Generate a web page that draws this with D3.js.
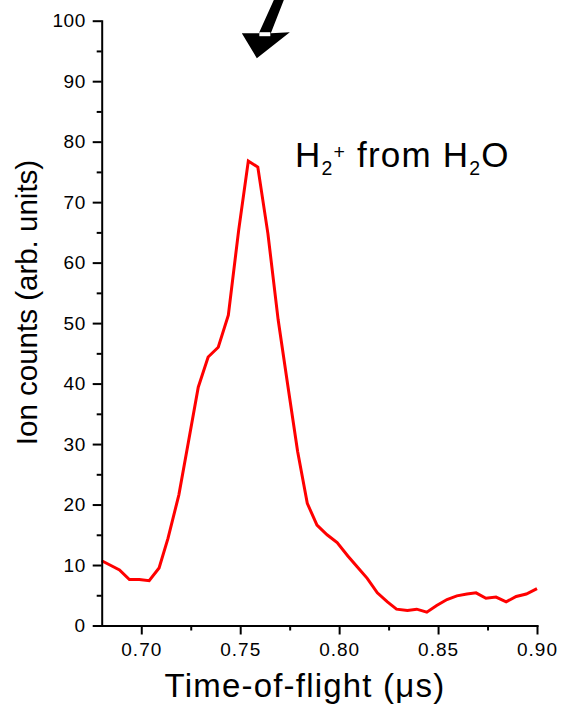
<!DOCTYPE html>
<html>
  <head>
    <meta charset="utf-8">
    <title>H2+ from H2O</title>
<style>
  body { margin: 0; background-color: #fff; }
  svg { display: block; font-family: "Liberation Sans", Arial, sans-serif; }
  .axis path, .axis line { stroke: #000; stroke-width: 2px; }
  .axis text { font-size: 19px; fill: #000; }
  .x-axis text { letter-spacing: 1px; }
  .y-axis text { letter-spacing: 0.5px; }
</style>
  </head>
  <body>
    <div id="viz"></div>

  <script src="https://cdn.jsdelivr.net/npm/d3@7"></script>
  <script>

    // time-of-flight (us) and ion counts
    var tof    = [0.680, 0.689, 0.694, 0.699, 0.704, 0.709, 0.7135, 0.719, 0.7238, 0.7288,
                  0.7338, 0.7389, 0.744, 0.7492, 0.7541, 0.7589, 0.764, 0.7692, 0.774, 0.779,
                  0.7839, 0.7888, 0.7939, 0.799, 0.8044, 0.8091, 0.8142, 0.8193, 0.8244, 0.829,
                  0.8345, 0.8392, 0.8443, 0.8493, 0.8545, 0.8595, 0.8646, 0.8692, 0.8742, 0.8793,
                  0.8844, 0.8895, 0.8946, 0.900]
    var counts = [10.7, 9.2, 7.6, 7.6, 7.4, 9.5, 14.4, 21.6, 30.3, 39.4,
                  44.4, 46.0, 51.3, 65.3, 76.8, 75.8, 64.8, 50.5, 39.8, 28.8,
                  20.2, 16.6, 15.0, 13.7, 11.5, 9.7, 7.8, 5.4, 3.9, 2.7,
                  2.5, 2.7, 2.2, 3.3, 4.3, 4.9, 5.2, 5.4, 4.5, 4.7,
                  3.9, 4.8, 5.2, 6.1]

    var xTicks      = [0.70, 0.75, 0.80, 0.85, 0.90]
    var xMinorTicks = [0.725, 0.775, 0.825, 0.875]
    var yTicks      = [0, 10, 20, 30, 40, 50, 60, 70, 80, 90, 100]
    var yMinorTicks = [5, 15, 25, 35, 45, 55, 65, 75, 85, 95]

    var arrowTip = { t: 0.7584, v: 93.8 }

    var W = 566, H = 709
    var margin = {top: 20.7, right: 29, bottom: 83.5, left: 101.7},
        width = W - margin.left - margin.right,
        height = H - margin.top - margin.bottom

    var x = d3.scaleLinear().domain([0.68, 0.90]).range([0, width])
    var y = d3.scaleLinear().domain([0, 100]).range([height, 0])

    var svg = d3.select("#viz").append("svg")
        .attr("width", W)
        .attr("height", H)
      .append("g")
        .attr("transform", "translate(" + margin.left + "," + margin.top + ")")

    // curve
    var line = d3.line()
        .x(function(d, i) { return x(tof[i]) })
        .y(function(d) { return y(d) })

    svg.append("path")
        .datum(counts)
        .attr("fill", "none")
        .attr("stroke", "#ff0000")
        .attr("stroke-width", 3)
        .attr("stroke-linejoin", "miter")
        .attr("d", line)

    // x axis
    svg.append("g")
        .attr("class", "axis x-axis")
        .attr("transform", "translate(0," + height + ")")
        .call(d3.axisBottom(x).tickValues(xTicks).tickFormat(d3.format(".2f"))
              .tickSizeInner(9).tickSizeOuter(0).tickPadding(8))

    svg.append("g")
        .attr("class", "axis")
        .attr("transform", "translate(0," + height + ")")
        .call(d3.axisBottom(x).tickValues(xMinorTicks).tickFormat("")
              .tickSizeInner(5).tickSizeOuter(0))
        .select(".domain").remove()

    // y axis
    svg.append("g")
        .attr("class", "axis y-axis")
        .call(d3.axisLeft(y).tickValues(yTicks)
              .tickSizeInner(9).tickSizeOuter(0).tickPadding(7))

    svg.append("g")
        .attr("class", "axis")
        .call(d3.axisLeft(y).tickValues(yMinorTicks).tickFormat("")
              .tickSizeInner(5).tickSizeOuter(0))
        .select(".domain").remove()

    svg.selectAll(".axis .domain").attr("stroke-linecap", "square")

    // axis titles
    svg.append("text")
        .attr("transform", "translate(" + (37.3 - margin.left) + "," + (302.5 - margin.top) + ") rotate(-90)")
        .style("text-anchor", "middle")
        .style("font-size", "29.5px")
        .text("Ion counts (arb. units)")

    svg.append("text")
        .attr("x", 305 - margin.left)
        .attr("y", 697 - margin.top)
        .style("text-anchor", "middle")
        .style("font-size", "33px")
        .style("letter-spacing", "1.2px")
        .text("Time-of-flight (μs)")

    // annotation
    var label = svg.append("text")
        .attr("x", 295 - margin.left)
        .attr("y", 167 - margin.top)
        .style("font-size", "35px")
        .style("letter-spacing", "1.2px")
    label.append("tspan").text("H")
    label.append("tspan").attr("dy", 8.5).style("font-size", "19.5px").text("2")
    label.append("tspan").attr("dy", -16).style("font-size", "19.5px").text("+")
    label.append("tspan").attr("dy", 7.5).text(" from H")
    label.append("tspan").attr("dy", 8.5).style("font-size", "19.5px").text("2")
    label.append("tspan").attr("dy", -8.5).text("O")

    // arrow pointing at the peak
    var ax = x(arrowTip.t), ay = y(arrowTip.v)
    svg.append("path")
        .attr("fill", "#000")
        .attr("d", "M" + (ax + 17) + "," + (-margin.top) +
                   "L" + (ax + 27) + "," + (-margin.top) +
                   "L" + (ax + 14) + "," + (ay - 25) +
                   "L" + (ax + 33) + "," + (ay - 26) +
                   "L" + ax + "," + ay +
                   "L" + (ax - 15) + "," + (ay - 25) +
                   "L" + (ax + 2) + "," + (ay - 25) + "Z")
    svg.append("rect")
        .attr("fill", "#fff")
        .attr("x", ax + 2.5).attr("y", ay - 26)
        .attr("width", 11).attr("height", 4)

  </script>
  </body>
</html>
